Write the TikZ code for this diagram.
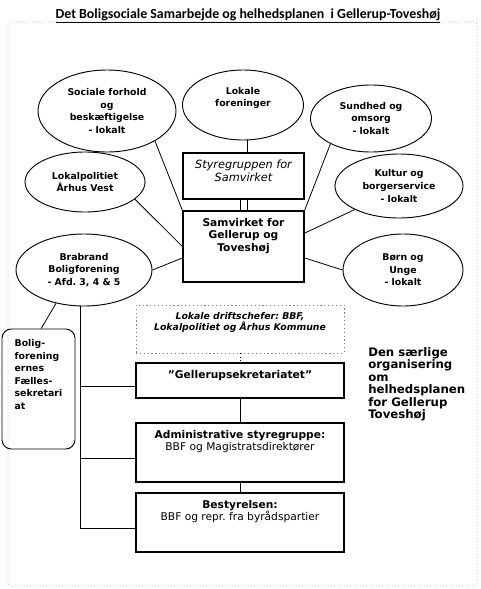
\documentclass[tikz,border=0pt]{standalone}
\usepackage{fontspec}
\setmainfont{DejaVu Sans}
\newfontfamily\titlefont{Carlito}
\usetikzlibrary{shapes.geometric}
\newcommand{\topbox}[3]{\parbox[c][#2][t]{#1}{\centering #3}}
\frenchspacing

\begin{document}
\begin{tikzpicture}[x=0.75pt,y=-0.75pt,
    oval/.style={draw,ellipse,line width=0.7pt,inner sep=0pt,align=center,font=\bfseries\fontsize{7}{9.4}\selectfont},
    sbox/.style={draw,line width=0.9pt,inner xsep=0pt,inner ysep=5.5pt,font=\fontsize{8}{9.4}\selectfont},
    dbox/.style={sbox,draw=gray,dotted,line width=0.5pt},
    link/.style={semithick}]
  \useasboundingbox (0,0) rectangle (480,589);
  \draw[gray,dotted,rounded corners=2pt] (8,22) rectangle (477,586);
  \node[anchor=base,font=\titlefont\bfseries\fontsize{10.4}{12}\selectfont] (title) at (248,18)
    {\underline{Det Boligsociale Samarbejde og helhedsplanen\ \ i Gellerup-Toveshøj}};

  \node[oval,minimum width=103.5pt,minimum height=61.5pt] (soc) at (107,111) {Sociale forhold\\og\\beskæftigelse\\- lokalt};
  \node[oval,minimum width=90.75pt,minimum height=52.5pt] (lokf) at (243,105) {Lokale\\foreninger\\[3pt]};
  \node[oval,minimum width=90.75pt,minimum height=50.25pt] (sund) at (371,118.5) {Sundhed og\\omsorg\\- lokalt};
  \node[oval,minimum width=90pt,minimum height=45pt] (lokp) at (85,182) {Lokalpolitiet\\Århus Vest};
  \node[oval,minimum width=96pt,minimum height=48pt] (kult) at (399,186) {Kultur og\\borgerservice\\- lokalt};
  \node[oval,minimum width=102pt,minimum height=54pt] (brab) at (84,270) {Brabrand\\Boligforening\\- Afd. 3, 4 \& 5};
  \node[oval,minimum width=90pt,minimum height=54pt] (born) at (403,270) {Børn og\\Unge\\- lokalt};

  \node[sbox,font=\itshape\fontsize{8.5}{9.5}\selectfont] (styr) at (243.5,176) {\topbox{90.75pt}{23.5pt}{Styregruppen for\\Samvirket}};
  \node[sbox,font=\bfseries\fontsize{8}{9.4}\selectfont] (samv) at (243.5,246.5) {\topbox{90.75pt}{42.25pt}{Samvirket for\\Gellerup og\\Toveshøj}};
  \node[dbox,font=\bfseries\itshape\fontsize{7}{8.6}\selectfont] (drift) at (240,329) {\topbox{156pt}{25pt}{Lokale driftschefer: BBF,\\Lokalpolitiet og Århus Kommune}};
  \node[sbox,font=\bfseries\fontsize{8}{9.4}\selectfont] (gell) at (240,380.5) {\topbox{156pt}{15.25pt}{”Gellerupsekretariatet”}};
  \node[sbox] (adm) at (240,452.5) {\topbox{156pt}{33.25pt}{\textbf{Administrative styregruppe:}\\BBF og Magistratsdirektører}};
  \node[sbox] (best) at (240,522.5) {\topbox{156pt}{33.25pt}{\textbf{Bestyrelsen:}\\BBF og repr. fra byrådspartier}};

  \node[draw,line width=0.7pt,rounded corners=7pt,inner xsep=9.5pt,inner ysep=8pt,font=\bfseries\fontsize{7}{9.4}\selectfont] (fael) at (38.5,389)
    {\parbox[c][74pt][t]{35.75pt}{\raggedright Bolig-\\forening\\ernes\\Fælles-\\sekretari\\at}};
  \node[anchor=north west,inner sep=0pt,align=left,font=\bfseries\fontsize{8.8}{9.4}\selectfont] (note) at (368,347)
    {Den særlige\\organisering\\om\\helhedsplanen\\for Gellerup\\Toveshøj};

  \draw[link] (soc.-32) -- (samv.north west);
  \draw[link] (sund.212) -- (samv.north east);
  \draw[link] (lokp.-19) -- (samv.west);
  \draw[link] (kult.208) -- ([yshift=10pt]samv.east);
  \draw[link] (brab.east) -- ([yshift=-8.6pt]samv.west);
  \draw[link] (born.west) -- ([yshift=-8.6pt]samv.east);
  \coordinate (s1) at ([xshift=2.6pt]styr.north);
  \draw[link] (s1) -- (s1 |- lokf.south);
  \draw[link] ([xshift=-2.6pt]styr.south) -- ([xshift=-2.6pt]samv.north);
  \draw[link] ([xshift=2.6pt]styr.south) -- ([xshift=2.6pt]samv.north);
  \draw[link,dotted] (drift) -- (gell);
  \draw[link] (gell) -- (adm);
  \draw[link] (adm) -- (best);

  \coordinate (bus) at ([xshift=-3pt]brab.south);
  \coordinate (g1) at ([yshift=-4.5pt]gell.west);
  \coordinate (a1) at ([yshift=-4.5pt]adm.west);
  \coordinate (b1) at ([yshift=-4.5pt]best.west);
  \draw[link] (bus) |- (b1);
  \draw[link] (g1) -- (g1 -| bus);
  \draw[link] (a1) -- (a1 -| bus);
  \draw[link] (brab.230) -- ([xshift=2pt]fael.north);
\end{tikzpicture}
\end{document}
